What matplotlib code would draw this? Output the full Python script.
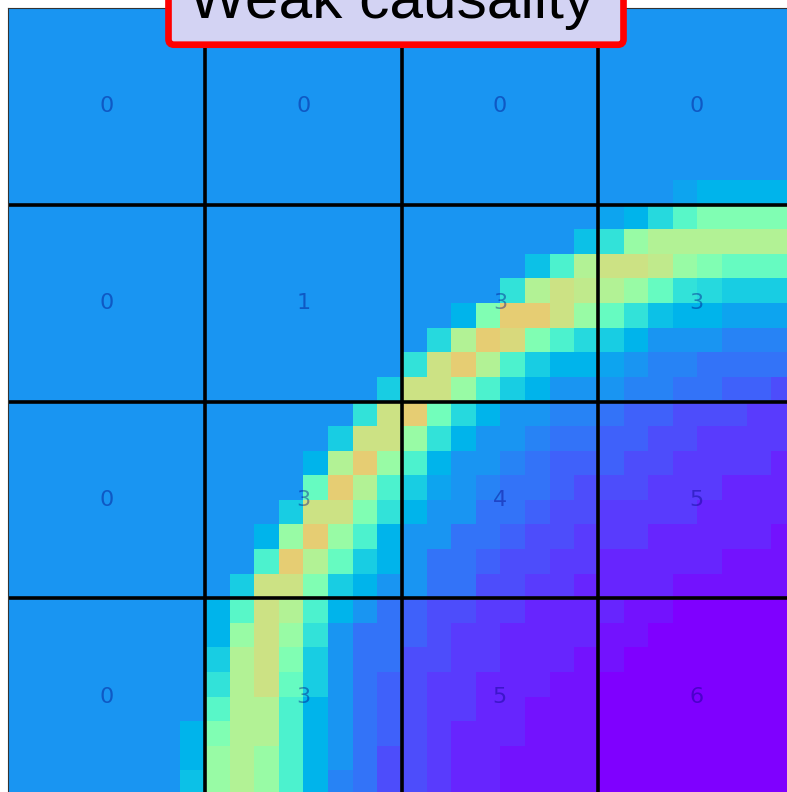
import numpy as np
import matplotlib
matplotlib.use("Agg")
import matplotlib.pyplot as plt
from matplotlib.patches import FancyBboxPatch

# Pixel intensities, one string per image row.
# Each character is a level index into LEVEL_CHARS; value = index / 40.
LEVEL_CHARS = "0123456789abcdefghijklmnopqrs"
field_rows = [
    "88888888888888888888888888888888",
    "88888888888888888888888888888888",
    "88888888888888888888888888888888",
    "88888888888888888888888888888888",
    "88888888888888888888888888888888",
    "88888888888888888888888888888888",
    "88888888888888888888888888888888",
    "8888888888888888888888888889aaaa",
    "8888888888888888888888889adhkkkk",
    "88888888888888888888888bemoooooo",
    "888888888888888888888bgoqqpmkiii",
    "88888888888888888888eoqpomiedccc",
    "888888888888888888akssqmiebaa999",
    "88888888888888888dosrkgdca888777",
    "8888888888888888eqsogcaa98776666",
    "888888888888888cqqmgca8887766554",
    "88888888888888eqsjda887765544433",
    "8888888888888cqqmea8876655443333",
    "888888888888aosmga88765554433332",
    "888888888888isogc987665444333222",
    "88888888888cqqkea886654433332222",
    "8888888888amsmga8866544333222221",
    "8888888888gsoica8665443322222111",
    "888888888cqqkca88664433222211111",
    "88888888ahqoga865443322221100000",
    "88888888amqme8665433222211000000",
    "88888888coqkc8664433222110000000",
    "88888888eoqic8654332221100000000",
    "88888888hooga8654332211100000000",
    "8888888akooga8654322211100000000",
    "8888888amomga8644322111100000000",
    "8888888bmomga7644322111100000000",
]

# Counts shown in the 4 x 4 blocks
block_counts = [
    [0, 0, 0, 0],
    [0, 1, 3, 3],
    [0, 3, 4, 5],
    [0, 3, 5, 6],
]

title_text = "Weak causality"

field = np.array([[LEVEL_CHARS.index(ch) / 40.0 for ch in row] for row in field_rows])
n = field.shape[0]
nb = len(block_counts)
bs = n // nb

W, H = 787, 792
fig = plt.figure(figsize=(W / 100, H / 100), dpi=100)
ax = fig.add_axes([8 / W, (H - 795) / H, 787 / W, 787 / H])
ax.imshow(field, cmap="rainbow", vmin=0, vmax=1, extent=(0, n, n, 0),
          interpolation="nearest", aspect="auto")
ax.set_xlim(0, n)
ax.set_ylim(n, 0)
for k in range(1, nb):
    ax.axvline(k * bs, color="black", lw=2.6)
    ax.axhline(k * bs, color="black", lw=2.6)
for i in range(nb):
    for j in range(nb):
        ax.text(j * bs + bs / 2, i * bs + bs / 2, str(block_counts[i][j]),
                ha="center", va="center", fontsize=16, color="navy",
                alpha=0.4, family="DejaVu Sans")
ax.set_xticks([])
ax.set_yticks([])
for s in ax.spines.values():
    s.set_linewidth(0.8)
    s.set_color("#333333")

# Title box (partly outside the top of the figure)
x0, x1 = 168.5 / W, 623.5 / W
y0, y1 = 1 - 44.7 / H, 1 + 30 / H
box = FancyBboxPatch((x0, y0), x1 - x0, y1 - y0,
                     boxstyle="round,pad=0,rounding_size=0.007",
                     transform=fig.transFigure, facecolor="#d3d3f3",
                     edgecolor="red", linewidth=4.8, zorder=5)
fig.patches.append(box)
fig.text(392 / W, 1 - 18 / H, title_text, ha="center", va="baseline",
         fontsize=43.5, color="black", zorder=6, family="Liberation Sans")

fig.savefig("out.png", dpi=100)
